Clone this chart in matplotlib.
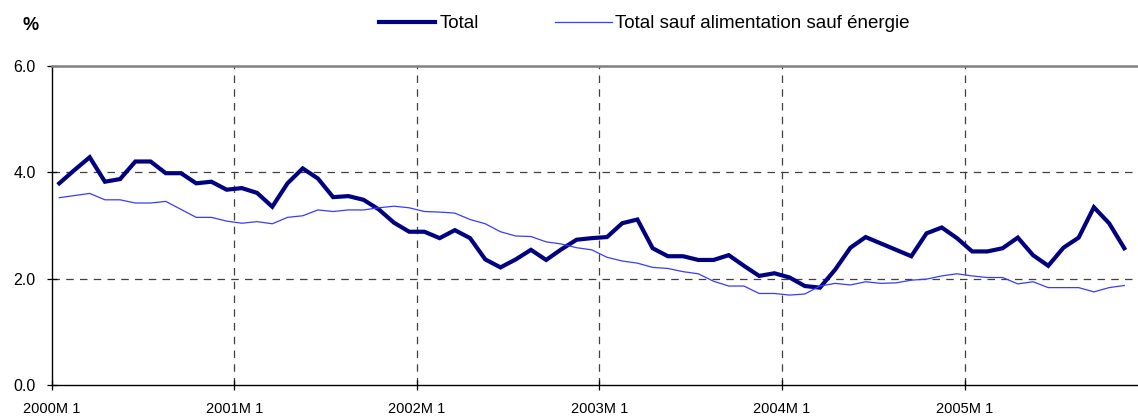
import numpy as np
import matplotlib.pyplot as plt
from matplotlib.ticker import FormatStrFormatter

plt.rcParams['font.family'] = ['Liberation Sans', 'DejaVu Sans']

years = ["2000M 1", "2001M 1", "2002M 1", "2003M 1", "2004M 1", "2005M 1"]

total = [3.79, 4.04, 4.28, 3.82, 3.87, 4.20, 4.20, 3.98, 3.98, 3.79, 3.82, 3.67,
         3.70, 3.61, 3.35, 3.79, 4.07, 3.88, 3.53, 3.55, 3.48, 3.30, 3.05, 2.88,
         2.88, 2.76, 2.91, 2.76, 2.36, 2.21, 2.36, 2.54, 2.35, 2.55, 2.73, 2.76,
         2.78, 3.04, 3.11, 2.57, 2.42, 2.42, 2.35, 2.35, 2.44, 2.24, 2.05, 2.10,
         2.02, 1.86, 1.83, 2.17, 2.58, 2.78, 2.66, 2.54, 2.42, 2.85, 2.96, 2.76,
         2.51, 2.51, 2.57, 2.77, 2.44, 2.24, 2.58, 2.77, 3.34, 3.04, 2.57]

core = [3.52, 3.56, 3.60, 3.48, 3.48, 3.42, 3.42, 3.45, 3.30, 3.15, 3.15, 3.08,
        3.04, 3.07, 3.03, 3.15, 3.18, 3.29, 3.26, 3.29, 3.29, 3.33, 3.36, 3.33,
        3.26, 3.25, 3.23, 3.11, 3.03, 2.88, 2.80, 2.79, 2.69, 2.65, 2.58, 2.54,
        2.40, 2.33, 2.29, 2.21, 2.19, 2.13, 2.09, 1.95, 1.86, 1.86, 1.72, 1.72,
        1.69, 1.71, 1.86, 1.91, 1.88, 1.94, 1.91, 1.92, 1.97, 1.99, 2.05, 2.09,
        2.05, 2.02, 2.02, 1.90, 1.94, 1.83, 1.83, 1.83, 1.75, 1.83, 1.87]

x = np.arange(len(total)) + 0.5  # points sit in the middle of each month

fig = plt.figure(figsize=(11.38, 4.19), dpi=100)
ax = fig.add_axes([0.0454, 0.0811, 0.9546, 0.7621])

l1, = ax.plot(x, total, color="#000080", lw=3.0, solid_joinstyle="miter",
              label="Total")
l2, = ax.plot(x, core, color="#3a3aff", lw=0.9,
              label="Total sauf alimentation sauf énergie")

ax.set_xlim(0, 71.4)
ax.set_ylim(0, 6)
year_pos = np.arange(len(years)) * 12
ax.set_xticks(year_pos)
ax.set_xticklabels(years)
ax.set_yticks([0, 2, 4, 6])
ax.yaxis.set_major_formatter(FormatStrFormatter("%.1f"))

grid_kw = dict(color="#404040", lw=0.9, dashes=(6, 5))
for xp in year_pos[1:]:
    ax.axvline(xp, **grid_kw, zorder=0)
for yp in [2, 4]:
    ax.axhline(yp, **grid_kw, zorder=0)

ax.spines["right"].set_visible(False)
ax.spines["top"].set_color("#808080")
ax.spines["top"].set_linewidth(1.8)
ax.spines["left"].set_linewidth(1.0)
ax.spines["bottom"].set_linewidth(1.0)

ax.tick_params(axis="both", direction="inout", length=7, width=0.9,
               colors="black")
ax.tick_params(axis="x", pad=9, labelsize=10.5)
ax.tick_params(axis="y", pad=8, labelsize=11.5)

fig.text(0.02, 0.94, "%", fontsize=13, fontweight="bold", ha="left", va="center")

fig.legend(handles=[l1, l2], loc="center left", bbox_to_anchor=(0.325, 0.943),
           ncol=2, frameon=False, fontsize=13.5, borderpad=0, handlelength=3.0,
           handletextpad=0.2, columnspacing=4.1)

fig.savefig("out.png", dpi=100)
